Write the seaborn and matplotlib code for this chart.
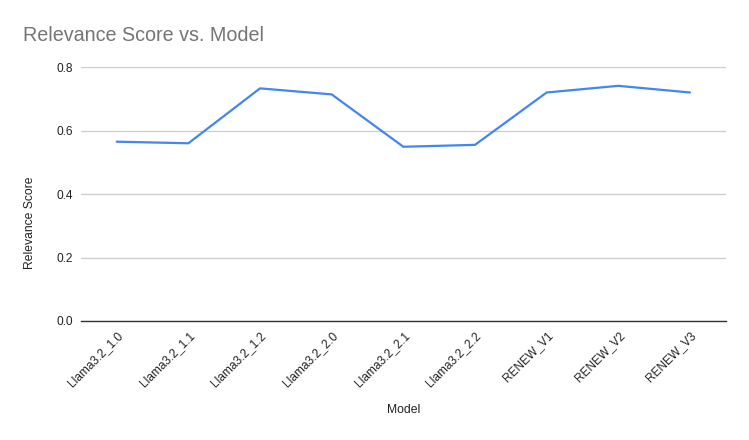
import matplotlib
matplotlib.use("Agg")
import matplotlib.pyplot as plt
import seaborn as sns
import pandas as pd

models = ["Llama3.2_1.0", "Llama3.2_1.1", "Llama3.2_1.2", "Llama3.2_2.0",
          "Llama3.2_2.1", "Llama3.2_2.2", "RENEW_V1", "RENEW_V2", "RENEW_V3"]
scores = [0.565, 0.560, 0.733, 0.714, 0.549, 0.555, 0.720, 0.741, 0.720]

sns.set_style("white")
plt.rcParams['font.family'] = ['Liberation Sans', 'DejaVu Sans']

df = pd.DataFrame({"Model": models, "Relevance Score": scores})

fig = plt.figure(figsize=(7.49, 4.4), dpi=100)
ax = fig.add_axes([0.108, 0.2705, 0.861, 0.577])

sns.lineplot(data=df, x="Model", y="Relevance Score", sort=False,
             color="#4285F4", linewidth=1.6, ax=ax)

ax.set_xlim(-0.5, len(models) - 0.5)
ax.set_ylim(0, 0.8)
ax.set_yticks([0, 0.2, 0.4, 0.6, 0.8])
ax.set_yticklabels(["0.0", "0.2", "0.4", "0.6", "0.8"])
ax.yaxis.grid(True, color="#cccccc", linewidth=0.9)
ax.set_axisbelow(True)
for s in ["top", "right", "left"]:
    ax.spines[s].set_visible(False)
ax.spines["bottom"].set_color("#333333")
ax.spines["bottom"].set_linewidth(1.0)
ax.spines["bottom"].set_zorder(3)
ax.tick_params(axis="both", length=0, labelsize=8.6, colors="#222222", pad=6)
plt.setp(ax.get_xticklabels(), rotation=45, ha="right", rotation_mode="anchor")

ax.set_xlabel("Model", fontsize=8.7, color="#222222")
ax.set_ylabel("Relevance Score", fontsize=8.7, color="#222222")
ax.xaxis.set_label_coords(0.5, -0.35)
ax.yaxis.set_label_coords(-0.079, 0.386)
ax.xaxis.label.set_va("center")
ax.yaxis.label.set_va("center")

fig.text(0.031, 0.92, "Relevance Score vs. Model", fontsize=14.2,
         color="#757575", ha="left", va="center")

fig.savefig("out.png", dpi=100)
